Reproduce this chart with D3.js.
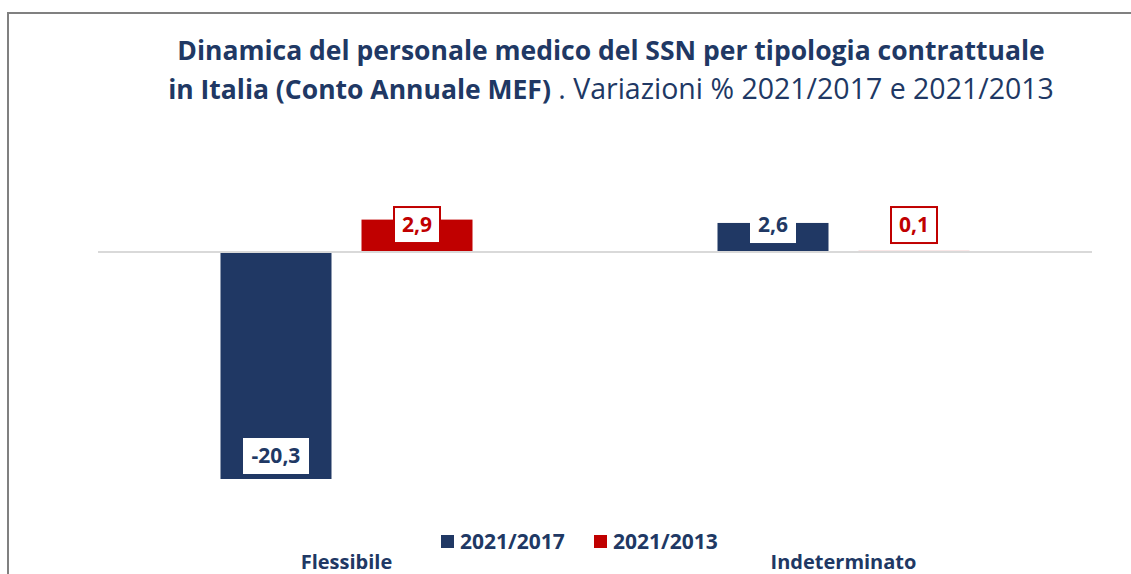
<!DOCTYPE html>
<html>
<head>
<meta charset="utf-8">
<script src="https://cdn.jsdelivr.net/npm/d3@7"></script>
<style>
  body { margin: 0; background: #fff; }
  svg text { font-family: "Open Sans", sans-serif; }
</style>
</head>
<body>
<svg id="chart"></svg>
<script>
let width = 1131,
    height = 574;

let categories = ['Flessibile', 'Indeterminato'];
let seriesNames = ['2021/2017', '2021/2013'];
let values2017 = [-20.3, 2.6];
let values2013 = [2.9, 0.1];

let navy = '#203864',
    red = '#c00000';
let colors = [navy, red];

let svg = d3.select('svg#chart')
    .attr('width', width)
    .attr('height', height);

// frame
svg.append('path')
    .attr('d', 'M8,' + height + 'V13H' + width)
    .attr('fill', 'none')
    .attr('stroke', '#808080')
    .attr('stroke-width', 2);

// title
let title = svg.append('text')
    .attr('text-anchor', 'middle')
    .attr('fill', navy)
    .style('font-size', '26.5px');
title.append('tspan')
    .attr('x', 611).attr('y', 60)
    .style('font-weight', 'bold')
    .text('Dinamica del personale medico del SSN per tipologia contrattuale');
let line2 = title.append('tspan')
    .attr('x', 611).attr('y', 99);
line2.append('tspan').style('font-weight', 'bold').text('in Italia (Conto Annuale MEF)');
line2.append('tspan').style('font-size', '28.5px').text(' . Variazioni % 2021/2017 e 2021/2013');

let x0 = d3.scaleBand()
    .domain(categories)
    .range([98, 1092]);

let x1 = d3.scaleBand()
    .domain(seriesNames)
    .range([0, 252])
    .paddingInner(30 / 141);

let y = d3.scaleLinear()
    .domain([-20.3, 2.9])
    .range([479, 219.6]);

let rows = [];
categories.forEach((c, i) => {
    rows.push({cat: c, series: seriesNames[0], value: values2017[i], color: colors[0]});
    rows.push({cat: c, series: seriesNames[1], value: values2013[i], color: colors[1]});
});

let bx = d => x0(d.cat) + (x0.bandwidth() - 252) / 2 + x1(d.series);

svg.append('g').selectAll('rect')
    .data(rows)
    .join('rect')
    .attr('x', bx)
    .attr('y', d => y(Math.max(0, d.value)))
    .attr('width', x1.bandwidth())
    .attr('height', d => Math.max(1, Math.abs(y(d.value) - y(0))))
    .attr('fill', d => d.color);

// zero line
svg.append('line')
    .attr('x1', 98).attr('x2', 1092)
    .attr('y1', y(0)).attr('y2', y(0))
    .attr('stroke', '#d9d9d9')
    .attr('stroke-width', 2);

// value labels
let fmt = v => d3.format('.1f')(v).replace('.', ',').replace('−', '-');
let labels = svg.append('g').selectAll('g')
    .data(rows)
    .join('g')
    .attr('transform', d => {
        let cx = bx(d) + x1.bandwidth() / 2;
        let cy = d.value < 0 ? y(d.value) - 23 : y(0) - 27;
        return 'translate(' + cx + ',' + cy + ')';
    });
labels.append('rect')
    .attr('x', d => d.value < 0 ? -33 : -23)
    .attr('y', -18)
    .attr('width', d => d.value < 0 ? 66 : 46)
    .attr('height', 36)
    .attr('fill', '#fff')
    .attr('stroke', d => d.color === red ? red : 'none')
    .attr('stroke-width', 2);
labels.append('text')
    .attr('text-anchor', 'middle')
    .attr('dy', '0.35em')
    .attr('fill', d => d.color)
    .style('font-size', '21px')
    .style('font-weight', 'bold')
    .text(d => fmt(d.value));

// category labels
svg.append('g').selectAll('text')
    .data(categories)
    .join('text')
    .attr('x', d => x0(d) + x0.bandwidth() / 2)
    .attr('y', 569)
    .attr('text-anchor', 'middle')
    .attr('fill', navy)
    .style('font-size', '20px')
    .style('font-weight', 'bold')
    .text(d => d);

// legend
let legendX = [441, 594];
let legend = svg.append('g').selectAll('g')
    .data(seriesNames)
    .join('g')
    .attr('transform', (d, i) => 'translate(' + legendX[i] + ',535)');
legend.append('rect')
    .attr('width', 13).attr('height', 13)
    .attr('fill', (d, i) => colors[i]);
legend.append('text')
    .attr('x', 19).attr('y', 14)
    .attr('fill', navy)
    .style('font-size', '21px')
    .style('font-weight', 'bold')
    .text(d => d);
</script>
</body>
</html>
